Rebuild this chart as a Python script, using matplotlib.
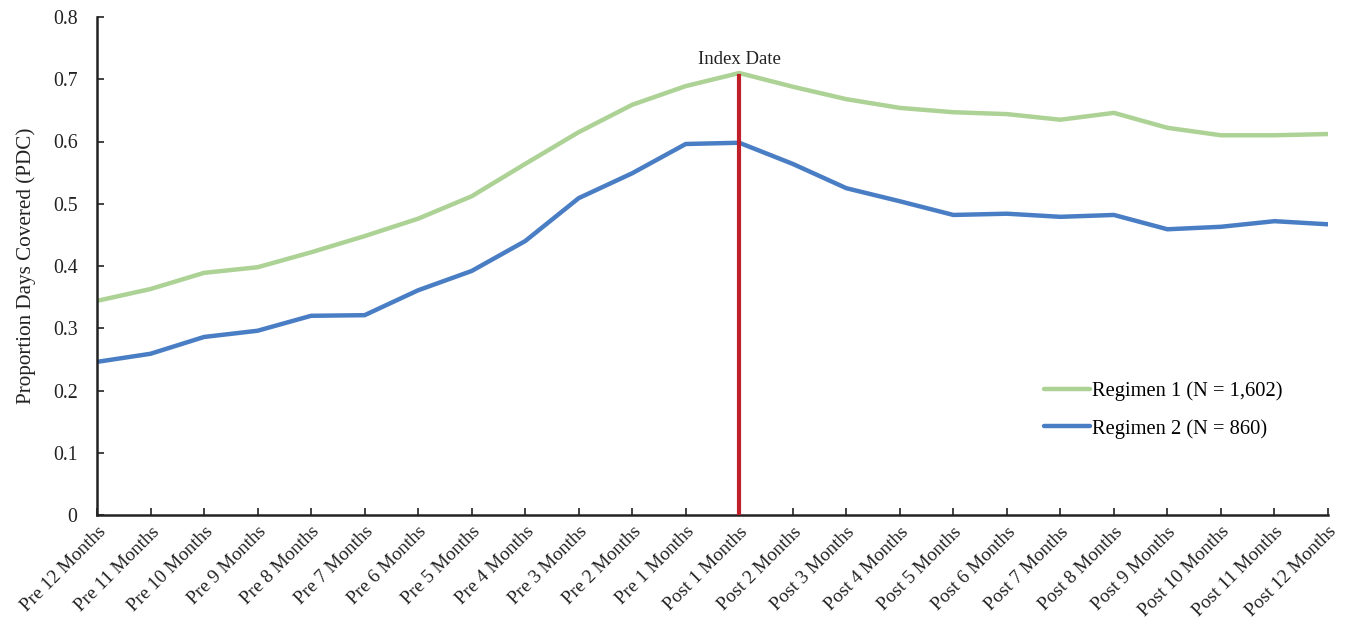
import matplotlib
matplotlib.use("Agg")
import matplotlib.pyplot as plt

plt.rcParams['font.family'] = ['Liberation Serif', 'DejaVu Serif']

months = ["Pre %d Months" % m for m in range(12, 0, -1)] + \
         ["Post %d Months" % m for m in range(1, 13)]

regimen1 = [0.344, 0.363, 0.389, 0.398, 0.422, 0.448, 0.476, 0.512, 0.564, 0.615, 0.659, 0.689,
            0.710, 0.688, 0.668, 0.654, 0.647, 0.644, 0.635, 0.646, 0.622, 0.610, 0.610, 0.612]
regimen2 = [0.246, 0.259, 0.286, 0.296, 0.320, 0.321, 0.361, 0.392, 0.440, 0.509, 0.549, 0.596,
            0.598, 0.564, 0.525, 0.504, 0.482, 0.484, 0.479, 0.482, 0.459, 0.463, 0.472, 0.467]
index_pos = months.index("Post 1 Months")

fig = plt.figure(figsize=(13.47, 6.28), dpi=100)
ax = fig.add_axes([97/1347, 1 - 515/628, (1328-97)/1347, (515-17)/628])

x = range(len(months))
ax.plot(x, regimen1, color="#add295", lw=3.2, label="Regimen 1 (N = 1,602)", solid_capstyle="round")
ax.plot(x, regimen2, color="#4a7ec4", lw=3.2, label="Regimen 2 (N = 860)", solid_capstyle="round")
ax.plot([index_pos, index_pos], [0, 0.706], color="#c0202a", lw=3, zorder=3)
ax.text(index_pos, 0.718, "Index Date", ha="center", va="bottom", fontsize=13.5, color="#222222")

ax.set_xlim(0, len(months) - 1)
ax.set_ylim(0, 0.8)
ax.set_yticks([0, 0.1, 0.2, 0.3, 0.4, 0.5, 0.6, 0.7, 0.8])
ax.set_yticklabels(["0", "0.1", "0.2", "0.3", "0.4", "0.5", "0.6", "0.7", "0.8"])
ax.set_xticks(list(x))
ax.set_xticklabels(months, rotation=45, ha="right", rotation_mode="anchor")
ax.tick_params(axis="both", direction="in", length=5, width=1.2,
               colors="#222222")
ax.tick_params(axis="y", labelsize=14.3, pad=14)
ax.tick_params(axis="x", labelsize=13.8, pad=6)

for side in ("top", "right"):
    ax.spines[side].set_visible(False)
for side in ("left", "bottom"):
    ax.spines[side].set_linewidth(1.8)
    ax.spines[side].set_color("#222222")

ax.set_ylabel("Proportion Days Covered (PDC)", fontsize=15.2, color="#222222", labelpad=12)

ax.legend(loc="upper left", bbox_to_anchor=(0.754, 0.305), frameon=False, fontsize=14.8,
          handlelength=2.25, handletextpad=0.1, labelspacing=0.85)

fig.savefig("out.png", dpi=100)
